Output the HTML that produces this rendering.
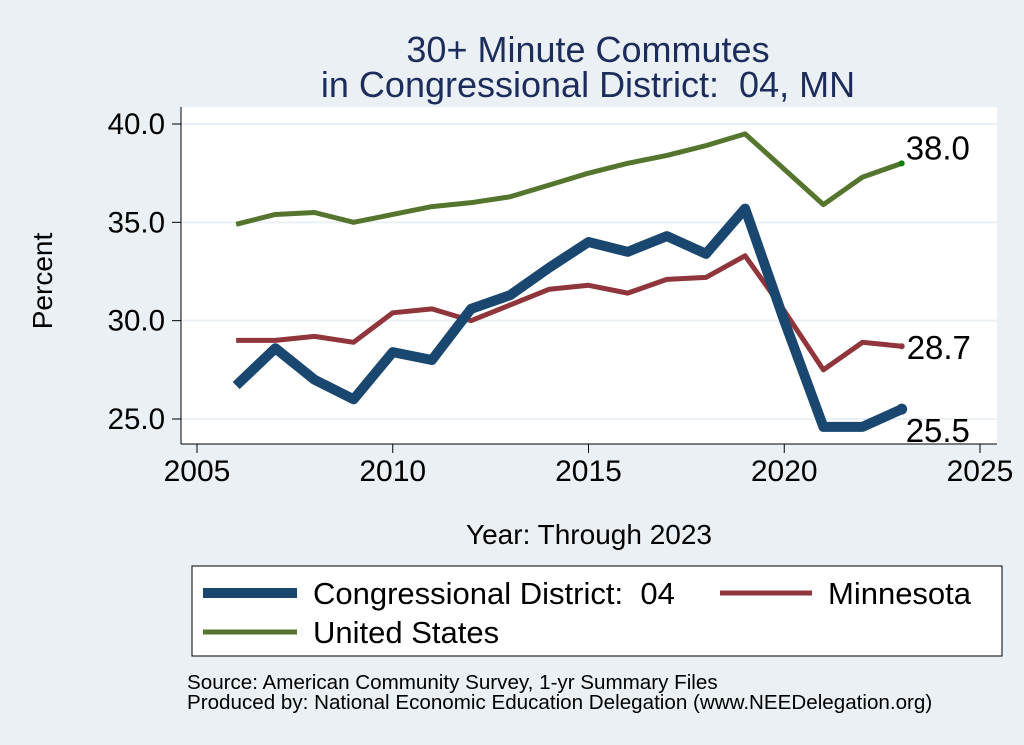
<!DOCTYPE html>
<html><head><meta charset="utf-8"><style>
body{margin:0;background:#eaf0f4;}
svg{display:block;font-family:"Liberation Sans",sans-serif;}
text{white-space:pre;}
</style></head><body>
<svg width="1024" height="745">
<rect x="0" y="0" width="1024" height="745" fill="#eaf0f4"/>
<rect x="181" y="107" width="816" height="337" fill="#ffffff"/>
<text x="588" y="62" text-anchor="middle" font-size="36" fill="#1c2d5c">30+ Minute Commutes</text>
<text x="588" y="97" text-anchor="middle" font-size="36" fill="#1c2d5c" xml:space="preserve">in Congressional District:  04, MN</text>
<g id="grid"></g><g id="axes"></g><g id="series"></g>
<text x="52" y="281" text-anchor="middle" font-size="28" fill="#000" transform="rotate(-90 52 281)">Percent</text>
<text x="589" y="544" text-anchor="middle" font-size="28" fill="#000">Year: Through 2023</text>
<g>
<rect x="192" y="566" width="810" height="90" fill="#fff" stroke="#000" stroke-width="1"/>
<line x1="203" y1="593" x2="297" y2="593" stroke="#1a476f" stroke-width="10"/>
<text x="313" y="604" font-size="31" xml:space="preserve">Congressional District:  04</text>
<line x1="720" y1="593" x2="812" y2="593" stroke="#90353b" stroke-width="5"/>
<text x="828" y="604" font-size="31">Minnesota</text>
<line x1="203" y1="632" x2="297" y2="632" stroke="#55752f" stroke-width="5"/>
<text x="313" y="643" font-size="31">United States</text>
</g>
<text x="187" y="689" font-size="20.6">Source: American Community Survey, 1-yr Summary Files</text>
<text x="187" y="709" font-size="20.6">Produced by: National Economic Education Delegation (www.NEEDelegation.org)</text>
</svg>
<script>
const years=[2006,2007,2008,2009,2010,2011,2012,2013,2014,2015,2016,2017,2018,2019,2020,2021,2022,2023];
const district=[26.7,28.6,27.0,26.0,28.4,28.0,30.6,31.3,32.7,34.0,33.5,34.3,33.4,35.7,30.0,24.6,24.6,25.5];
const minnesota=[29.0,29.0,29.2,28.9,30.4,30.6,30.0,30.8,31.6,31.8,31.4,32.1,32.2,33.3,30.5,27.5,28.9,28.7];
const unitedStates=[34.9,35.4,35.5,35.0,35.4,35.8,36.0,36.3,36.9,37.5,38.0,38.4,38.9,39.5,37.7,35.9,37.3,38.0];
const yTicks=[25,30,35,40];
const xTicks=[2005,2010,2015,2020,2025];
const NS="http://www.w3.org/2000/svg";
const xs=v=>197+(v-2005)*(980-197)/20;
const ys=v=>419-(v-25)*(419-124)/15;
function mk(tag,attrs,parent){const e=document.createElementNS(NS,tag);for(const k in attrs)e.setAttribute(k,attrs[k]);document.getElementById(parent).appendChild(e);return e;}
yTicks.forEach(t=>{
 const g=mk('line',{x1:181,x2:997,y1:ys(t),y2:ys(t),stroke:'#eaf0f4','stroke-width':2},'grid');
 
 
 const tk=mk('line',{x1:172,x2:181,y1:ys(t),y2:ys(t),stroke:'#000'},'axes');
 
 
 const l=mk('text',{x:165,y:ys(t)+10,'text-anchor':'end','font-size':29.5},'axes');l.textContent=t.toFixed(1);
 
 
});
const ax=mk('line',{x1:181,x2:181,y1:107,y2:444,stroke:'#000'},'axes');


const bx=mk('line',{x1:181,x2:997,y1:444,y2:444,stroke:'#000'},'axes');


xTicks.forEach(t=>{
 const tk=mk('line',{x1:xs(t),x2:xs(t),y1:444,y2:453,stroke:'#000'},'axes');
 
 
 const l=mk('text',{x:xs(t),y:481,'text-anchor':'middle','font-size':30},'axes');l.textContent=t;
 
 
});
function series(vals,color,w,name,labelDx,labelDy,dot){
 const p=mk('polyline',{points:vals.map((v,i)=>xs(years[i])+','+ys(v)).join(' '),fill:'none',stroke:color,'stroke-width':w,'stroke-linejoin':'round'},'series');
 
 
 const last=vals[vals.length-1];
 const c=mk('circle',{cx:xs(years[years.length-1]),cy:ys(last),r:w/2+0.5,fill:dot},'series');
 
 
 const t=mk('text',{x:xs(years[years.length-1])+labelDx,y:ys(last)+labelDy,'font-size':33},'series');t.textContent=last.toFixed(1);
 
 
}
series(unitedStates,'#55752f',5,'us',4,-4,'#008000');
series(minnesota,'#90353b',5,'minnesota',5,13,'#90353b');
series(district,'#1a476f',10,'district',4,33,'#1a476f');
</script>
</body></html>
